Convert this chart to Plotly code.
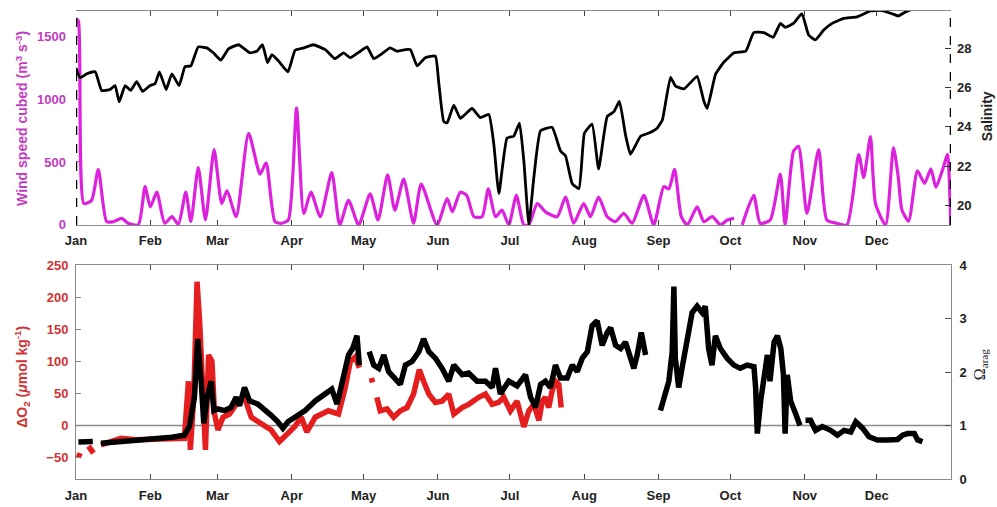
import plotly.graph_objects as go
import pandas as pd

# ---------------- DATA (day of year offsets from Jan 1) ----------------
month_labels = ["Jan", "Feb", "Mar", "Apr", "May", "Jun", "Jul", "Aug", "Sep", "Oct", "Nov", "Dec"]

wind_day = [0, 1, 3.3, 6.5, 9.3, 12.8, 15.6, 19, 21.8, 26, 28.8, 31, 33.7, 37, 40, 42.7, 45.8, 47.9, 51, 54,
            57.6, 60.8, 63, 66.8, 72, 76.8, 79.3, 83, 85.8, 88.6, 92, 95, 98, 101.9, 106.7, 110, 113.7, 117.9,
            122.7, 126, 130, 133, 136.7, 140.8, 144, 150.6, 154.8, 157, 160.3, 163, 166, 169.4, 172, 175, 177.7,
            180.5, 183.7, 186.8, 188.9, 192.4, 195.8, 200.7, 204.2, 207.6, 211.8, 214.6, 218, 221.6, 225, 228.5,
            232, 236.9, 241, 245.2, 247.3, 249.7, 252.5, 255, 259.1, 261.9, 265.4, 268.9, 271.7, 274.5, 276,
            277.9, 282.7, 285.4, 289.6, 293.8, 295.8, 299.3, 301.4, 304.9, 309.8, 313.2, 317.4, 321.6, 326.5,
            328.6, 331.4, 333.5, 337.7, 341, 343, 344.5, 347.3, 351, 354, 356.6, 358.7, 362, 363.5, 364.9]
wind_cubed = [1640, 1620, 170, 195, 440, 26, 26, 52, 13, 0, 304, 143, 260, 13, 65, 5, 260, 26, 455, 39,
              598, 169, 273, 65, 728, 403, 494, 26, 13, 40, 928, 91, 260, 65, 416, 0, 195, 0,
              247, 39, 398, 117, 364, 13, 325, 0, 208, 104, 260, 234, 65, 65, 286, 65, 117,
              0, 234, 0, 0, 169, 104, 65, 221, 13, 169, 65, 221, 65, 26, 91,
              13, 234, 0, 304, 286, 442, 65, 0, 143, 26, 65, 0, 39, 52, None,
              0, 234, 13, 39, 403, 0, 585, 624, 91, 598, 39, 13, 0, 559,
              377, 702, 169, 0, 615, 380, 120, 30, 430, 330, 445, 300, 470, 560, 0]

sal_day = [0, 1.7, 4.5, 8, 10.7, 14.2, 16.3, 18, 20.5, 22.8, 25.3, 27.8, 30.9, 33, 34.8, 37.6, 40, 43, 45.5,
           47.9, 51, 54.5, 57.3, 60.4, 63.6, 67.8, 72.6, 75.4, 77.8, 79.9, 81.7, 84.5, 88.4, 91.4, 95, 99, 104,
           108, 111.6, 114.4, 118.6, 121.4, 124.2, 127.6, 131, 134, 137.4, 139.5, 142.3, 145.7, 149.9, 151.3,
           153.4, 154.8, 157.6, 160.3, 165.2, 168.7, 172.2, 174.3, 176.4, 179.8, 182.6, 185, 186.8, 188.9, 191,
           193.8, 198.6, 202.1, 204.2, 207, 209.8, 212.1, 215.3, 218, 221.6, 224.4, 226.7, 229.2, 231.3, 235.5,
           239, 242.4, 244.6, 248, 250.1, 253.6, 256.7, 259.1, 262, 263.3, 266.8, 270.3, 274.5, 279.4, 282.7,
           286.9, 290.9, 293.8, 295.8, 299.3, 302.8, 305.6, 308.4, 311.9, 315.4, 320.3, 325.8, 331.4, 335.6,
           341.2, 343, 346, 349]
salinity = [27.0, 26.5, 26.7, 26.8, 25.85, 25.9, 26.1, 25.27, 26.1, 25.85, 26.3, 25.8, 26.1, 26.2, 26.8, 25.9,
            26.7, 26.1, 27.07, 27.1, 28.07, 28.02, 27.77, 27.4, 27.97, 28.18, 27.77, 27.85, 28.18, 27.27, 27.68,
            27.35, 26.8, 27.9, 28.02, 28.18, 27.93, 27.47, 27.77, 27.52, 27.85, 28.07, 27.47, 27.72, 28.02, 27.85,
            27.93, 27.93, 27.1, 27.52, 27.6, 26.27, 24.27, 24.2, 25.1, 24.43, 24.93, 24.47, 24.63, 23.1, 20.6,
            23.43, 23.52, 24.18, 22.27, 19.02, 21.43, 23.8, 23.97, 22.77, 22.52, 21.1, 20.85, 23.68, 24.13, 21.85,
            24.52, 24.77, 25.3, 23.6, 22.6, 23.52, 23.68, 23.93, 24.35, 26.52, 26.07, 25.93, 26.3, 26.57, 25.27,
            24.93, 26.68, 27.3, 27.77, 27.85, 28.8, 28.8, 28.57, 29.27, 29.07, 29.27, 29.77, 28.68, 28.43, 28.93,
            29.27, 29.52, 29.6, 29.9, 29.93, 29.73, 29.65, 29.85, 30.0]

do2_day = [1, 1.7, 3, 5.2, 7.3, 8.5, 10.4, 18.8, 25, 32.7, 40, 45.2, 46.9, 47.7, 49.1, 50.5, 51.6, 52.9, 54,
           55.3, 56.7, 57.8, 59.2, 61.3, 64, 66.8, 70.3, 73.1, 77.2, 81.4, 84.9, 87.7, 91.2, 94, 96.3, 99.8,
           105.3, 109.5, 112.3, 114.4, 116.5, 118.2, 120, 123.2, 123.7, 124.5, 125.5, 126.9, 129.7, 132.5, 135.3,
           138.1, 140.8, 143.2, 145, 147.2, 149.9, 152.7, 155.5, 157.6, 161.1, 163.8, 168, 170.8, 173.6, 176.3,
           178.4, 181.2, 184, 186.8, 188.9, 191, 193.1, 194.5, 195.8, 197.2, 198.6, 200, 201.4, 202.4]
delta_o2 = [-50, -43, None, -32, -43, None, -30, -20, -22, -22, -20, -20, 69, -38, 44, 224, 160, 23, -38,
            110, 100, 18, -7, 13, 18, 33, 44, 13, 3, -7, -25, -15, -2, 13, -10, 13,
            23, 18, 59, 100, 107, 90, None, 74, 67, None, 44, 23, 26, 13, 23,
            28, 49, 87, 69, 49, 36, 38, 49, 18, 28, 33, 44, 49, 33, 36,
            44, 23, 38, -2, 23, 33, 8, 38, 44, 28, 54, 69, 64, 28]

omega_day = [1, 4.6, 7, 8.5, 10.4, 18.8, 25, 32.7, 40, 45.2, 47.3, 49.4, 50.8, 52.2, 53.3, 54.7, 56.4, 57.5,
             59.2, 62, 64.7, 66.8, 68.2, 70.3, 72.4, 75.9, 78.6, 81.4, 84.2, 86.3, 88.4, 91.2, 95.6, 99.8, 104,
             106.7, 108.9, 111, 113.7, 115.4, 117.2, 118.2, 120, 122.3, 124.2, 126.3, 128.4, 130.4, 133.2, 135.3,
             137.4, 140.2, 143, 145, 147.2, 149.9, 152.7, 155.5, 157.6, 161.1, 163.8, 167.3, 170.8, 173.6, 175,
             177, 180.5, 184, 187.5, 189.6, 191.7, 193.8, 195.8, 197.9, 200, 202.1, 204.9, 207, 209.1, 211.2,
             213.3, 215.3, 217.4, 219.5, 221.6, 223, 225.1, 227.2, 229.2, 231.3, 232.7, 234.1, 235.8, 237.6, 240,
             243.8, 245.9, 247.3, 248.7, 249.4, 250, 251.4, 252.8, 254.2, 255.6, 257, 259.1, 261.2, 262.5, 263.9,
             265.3, 266.7, 268.8, 271.6, 274.4, 277.1, 280, 282.8, 283.5, 284.2, 285.6, 287, 288.4, 289.5, 291.2,
             292.6, 294, 295.1, 295.8, 296.7, 298.1, 300.2, 302, 303, 304.3, 306.4, 308.5, 311.3, 314.8, 317.6,
             320.4, 323.2, 325.3, 328.1, 330.8, 334.3, 338.5, 342.7, 344.8, 346.9, 349.7, 351.1, 353.1]
omega_arag = [0.69, 0.70, 0.70, None, 0.67, 0.70, 0.73, 0.76, 0.78, 0.82, 0.98, 1.53, 2.62, 1.83, 1.04, 1.53,
              1.83, 1.28, 1.31, 1.28, 1.34, 1.53, 1.37, 1.71, 1.46, 1.40, 1.28, 1.19, 1.07, 0.95, 1.07, 1.16,
              1.28, 1.46, 1.59, 1.68, 1.40, 1.83, 2.32, 2.44, 2.68, 2.13, None, 2.38, 2.13, 2.07, 2.32, 2.01,
              1.89, 1.77, 2.13, 2.20, 2.38, 2.62, 2.38, 2.26, 2.07, 1.83, 2.13, 1.95, 1.98, 1.83, 1.83, 1.71,
              2.07, 1.59, 1.83, 1.74, 1.95, 1.53, 1.34, 1.77, 1.83, 1.71, 2.13, 1.89, 1.89, 2.13, 2.01, 2.26,
              2.38, 2.87, 2.96, 2.50, 2.74, 2.83, 2.50, 2.44, 2.56, 2.26, 2.07, 2.32, 2.74, 2.32, None,
              1.28, 1.59, 1.83, 2.38, 3.60, 2.26, 1.71, 2.07, 2.44, 2.87, 3.11, 3.23, 3.11, 3.23, 2.44,
              2.13, 2.68, 2.44, 2.26, 2.13, 2.07, 2.13, 2.10, 1.71, 0.85, 1.46, 1.89, 2.32, 1.83, 2.56,
              2.68, 2.44, 1.95, 0.85, 1.95, 1.46, 1.22, 1.00, None, 1.10, 1.10, 0.91, 0.98, 0.91, 0.82,
              0.91, 0.88, 1.07, 0.95, 0.79, 0.73, 0.73, 0.74, 0.82, 0.85, 0.85, 0.73, 0.70]

# ---------------- helpers ----------------
BASE = pd.Timestamp("2015-01-01")


def to_dates(days):
    return [BASE + pd.Timedelta(days=d) for d in days]


month_ticks = [pd.Timestamp(2015, m, 1) for m in range(1, 13)]
x_range = [BASE, pd.Timestamp("2016-01-01")]

MAG_LINE = "#DD22DD"
MAG_TEXT = "#C23CC2"
RED_DOT = "#E41E1E"
RED_TEXT = "#CF3333"
FONT = "Liberation Sans"

fig = go.Figure()

fig.add_trace(go.Scatter(x=to_dates(sal_day), y=salinity, mode="lines",
                         line=dict(color="black", width=2.8, shape="spline", smoothing=0.4),
                         xaxis="x", yaxis="y2"))
fig.add_trace(go.Scatter(x=to_dates(wind_day), y=wind_cubed, mode="lines",
                         line=dict(color=MAG_LINE, width=3.2, shape="spline", smoothing=0.6),
                         xaxis="x", yaxis="y"))
fig.add_trace(go.Scatter(x=to_dates(do2_day), y=delta_o2, mode="lines",
                         line=dict(color=RED_DOT, width=5.5), xaxis="x2", yaxis="y3"))
fig.add_trace(go.Scatter(x=to_dates(omega_day), y=omega_arag, mode="lines",
                         line=dict(color="black", width=5.5), xaxis="x2", yaxis="y4"))

top_dom = [259 / 477, 1.0]
bot_dom = [0.0, 218 / 477]

xcommon = dict(range=x_range, tickvals=month_ticks, ticktext=month_labels, ticks="inside",
               ticklen=5, tickcolor="#444", showline=True, linecolor="#8a8a8a", linewidth=1,
               mirror="ticks", showgrid=False, zeroline=False, ticklabelstandoff=4,
               tickfont=dict(family=FONT, size=13, color="#222", weight="bold"))

fig.update_layout(
    width=997, height=507,
    margin=dict(l=76, r=46, t=4, b=26),
    paper_bgcolor="white", plot_bgcolor="white",
    showlegend=False,
    xaxis=dict(anchor="y", domain=[0, 1], **xcommon),
    xaxis2=dict(anchor="y3", domain=[0, 1], **xcommon),
    yaxis=dict(domain=top_dom, range=[0, 1700], tickvals=[0, 500, 1000, 1500], side="left",
               ticks="inside", ticklen=5, tickcolor=MAG_TEXT, showline=False, showgrid=False,
               zeroline=False, ticklabelstandoff=9,
               tickfont=dict(family=FONT, size=13, color=MAG_TEXT, weight="bold")),
    yaxis2=dict(overlaying="y", anchor="x", side="right", range=[19, 29.9],
                tickvals=[20, 22, 24, 26, 28], ticks="inside", ticklen=6, tickcolor="#333",
                showline=False, showgrid=False, zeroline=False, ticklabelstandoff=5,
                tickfont=dict(family=FONT, size=13, color="#222", weight="bold")),
    yaxis3=dict(domain=bot_dom, anchor="x2", range=[-250 / 3, 250],
                tickvals=[-50, 0, 50, 100, 150, 200, 250], side="left",
                ticks="inside", ticklen=5, tickcolor="#888", showline=True, linecolor="#8a8a8a",
                linewidth=1, showgrid=False, zeroline=False, ticklabelstandoff=4,
                tickfont=dict(family=FONT, size=13, color=RED_TEXT, weight="bold")),
    yaxis4=dict(overlaying="y3", anchor="x2", side="right", range=[0, 4],
                tickvals=[0, 1, 2, 3, 4], ticks="inside", ticklen=6, tickcolor="#555",
                showline=True, linecolor="#8a8a8a", linewidth=1, showgrid=False, zeroline=False,
                ticklabelstandoff=5,
                tickfont=dict(family=FONT, size=13, color="#222", weight="bold")),
)

# dashed black spines of the top panel and the zero line of the bottom panel
fig.add_shape(type="line", xref="x", yref="paper", x0=x_range[0], x1=x_range[0],
              y0=top_dom[0], y1=top_dom[1], line=dict(color="black", width=2.5, dash="dash"))
fig.add_shape(type="line", xref="x", yref="paper", x0=x_range[1], x1=x_range[1],
              y0=top_dom[0], y1=top_dom[1], line=dict(color="black", width=2.5, dash="dash"))
fig.add_shape(type="line", xref="paper", yref="y3", x0=0, x1=1, y0=0, y1=0,
              line=dict(color="#8a8a8a", width=1.5), layer="below")

# axis titles
fig.add_annotation(text="Wind speed cubed (m<sup>3</sup> s<sup>-3</sup>)", xref="paper", yref="paper",
                   x=-0.062, y=0.771, textangle=-90, showarrow=False, xanchor="center", yanchor="middle",
                   font=dict(family=FONT, size=14, color=MAG_TEXT, weight="bold"))
fig.add_annotation(text="Salinity", xref="paper", yref="paper",
                   x=1.041, y=0.775, textangle=-90, showarrow=False, xanchor="center", yanchor="middle",
                   font=dict(family=FONT, size=14, color="#222", weight="bold"))
fig.add_annotation(text="ΔO<sub>2</sub> (<i>μ</i>mol kg<sup>-1</sup>)", xref="paper", yref="paper",
                   x=-0.062, y=0.218, textangle=-90, showarrow=False, xanchor="center", yanchor="middle",
                   font=dict(family=FONT, size=14, color=RED_TEXT, weight="bold"))
fig.add_annotation(text="Ω<sub>arag</sub>", xref="paper", yref="paper",
                   x=1.033, y=0.245, textangle=-90, showarrow=False, xanchor="center", yanchor="middle",
                   font=dict(family="Liberation Serif", size=16, color="#222"))

fig.write_html("out.html", config={"displayModeBar": False},
               post_script="document.body.style.margin='0';document.body.style.overflow='hidden';")
